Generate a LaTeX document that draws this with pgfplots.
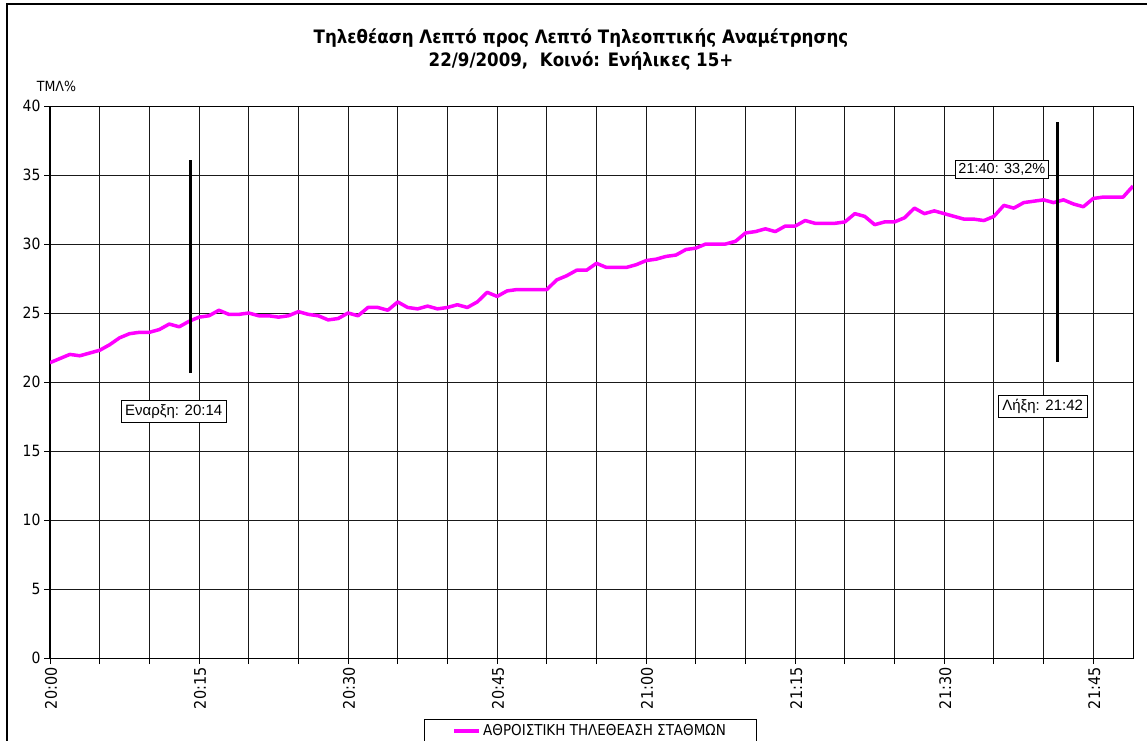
\documentclass[border=0pt]{standalone}
\usepackage{fontspec}
\setmainfont{DejaVu Sans Condensed}
\newfontfamily\arialfont{Liberation Sans}
\usepackage{pgfplots}
\pgfplotsset{compat=1.18}
\usepackage{pgfplotstable}
\definecolor{mag}{RGB}{255,0,255}
\pgfplotstableread{
m v
0 21.4
1 21.7
2 22.0
3 21.9
4 22.1
5 22.3
6 22.7
7 23.2
8 23.5
9 23.6
10 23.6
11 23.8
12 24.2
13 24.0
14 24.4
15 24.7
16 24.8
17 25.2
18 24.9
19 24.9
20 25.0
21 24.8
22 24.8
23 24.7
24 24.8
25 25.1
26 24.9
27 24.8
28 24.5
29 24.6
30 25.0
31 24.8
32 25.4
33 25.4
34 25.2
35 25.8
36 25.4
37 25.3
38 25.5
39 25.3
40 25.4
41 25.6
42 25.4
43 25.8
44 26.5
45 26.2
46 26.6
47 26.7
48 26.7
49 26.7
50 26.7
51 27.4
52 27.7
53 28.1
54 28.1
55 28.6
56 28.3
57 28.3
58 28.3
59 28.5
60 28.8
61 28.9
62 29.1
63 29.2
64 29.6
65 29.7
66 30.0
67 30.0
68 30.0
69 30.2
70 30.8
71 30.9
72 31.1
73 30.9
74 31.3
75 31.3
76 31.7
77 31.5
78 31.5
79 31.5
80 31.6
81 32.2
82 32.0
83 31.4
84 31.6
85 31.6
86 31.9
87 32.6
88 32.2
89 32.4
90 32.2
91 32.0
92 31.8
93 31.8
94 31.7
95 32.0
96 32.8
97 32.6
98 33.0
99 33.1
100 33.2
101 33.0
102 33.2
103 32.9
104 32.7
105 33.3
106 33.4
107 33.4
108 33.4
109 34.2
}\tml
\begin{document}
\begin{tikzpicture}[x=1pt,y=1pt]
\useasboundingbox (0,0) rectangle (1147,740);
\draw[black, line width=1.3pt] (7,-20) -- (7,736) -- (1170,736);
\begin{axis}[
  at={(50pt,82pt)}, anchor=south west,
  scale only axis, width=1083pt, height=552pt,
  xmin=0, xmax=109, ymin=0, ymax=40,
  xtick={0,5,...,105},
  xticklabels={20:00,,,20:15,,,20:30,,,20:45,,,21:00,,,21:15,,,21:30,,,21:45},
  ytick={0,5,...,40},
  tick pos=left,
  grid=major,
  major grid style={black!90, line width=0.9pt},
  tick align=outside, major tick length=6pt,
  tick style={black, line width=0.9pt},
  axis line style={black, line width=1pt},
  /pgf/number format/assume math mode=true,
  xticklabel style={rotate=90, anchor=east, font=\fontsize{16}{18}\selectfont, yshift=-1pt},
  yticklabel style={font=\fontsize{15.5}{18}\selectfont},
  clip=true,
  legend style={at={(0.3456,-0.111)}, anchor=north west, draw=black, line width=0.8pt,
    inner xsep=28pt, inner ysep=3pt, font=\fontsize{15}{17}\selectfont},
  legend image code/.code={\draw[#1, line width=3.5pt] (0pt,0pt) -- (25pt,0pt);},
]
\addplot[mag, line width=3.5pt, line join=round] table[x=m, y=v] {\tml};
\addlegendentry{ΑΘΡΟΙΣΤΙΚΗ ΤΗΛΕΘΕΑΣΗ ΣΤΑΘΜΩΝ}
\addplot[black, line width=3pt, forget plot] coordinates {(14.1,20.65) (14.1,36.1)};
\addplot[black, line width=3pt, forget plot] coordinates {(101.4,21.45) (101.4,38.84)};
\node[draw=black, fill=white, line width=0.7pt, font=\arialfont\fontsize{15}{17}\selectfont, inner xsep=4pt, inner ysep=4pt] at (axis cs:12.45,17.86) {Εναρξη: 20:14};
\node[draw=black, fill=white, line width=0.7pt, font=\arialfont\fontsize{15}{17}\selectfont, inner xsep=4pt, inner ysep=4pt] at (axis cs:99.9,18.24) {Λήξη: 21:42};
\node[draw=black, fill=white, line width=0.7pt, font=\arialfont\fontsize{14.5}{17}\selectfont, inner xsep=3.5pt, inner ysep=3pt] at (axis cs:95.8,35.4) {21:40: 33,2\%};
\end{axis}
\node[font=\bfseries\fontsize{18.5}{21}\selectfont] at (581,702) {Τηλεθέαση Λεπτό προς Λεπτό Τηλεοπτικής Αναμέτρησης};
\node[font=\bfseries\fontsize{18.5}{21}\selectfont] at (581,679) {22/9/2009,\ \ Κοινό: Ενήλικες 15+};
\node[font=\fontsize{14}{16}\selectfont] at (56.5,654) {ΤΜΛ\%};
\end{tikzpicture}
\end{document}
